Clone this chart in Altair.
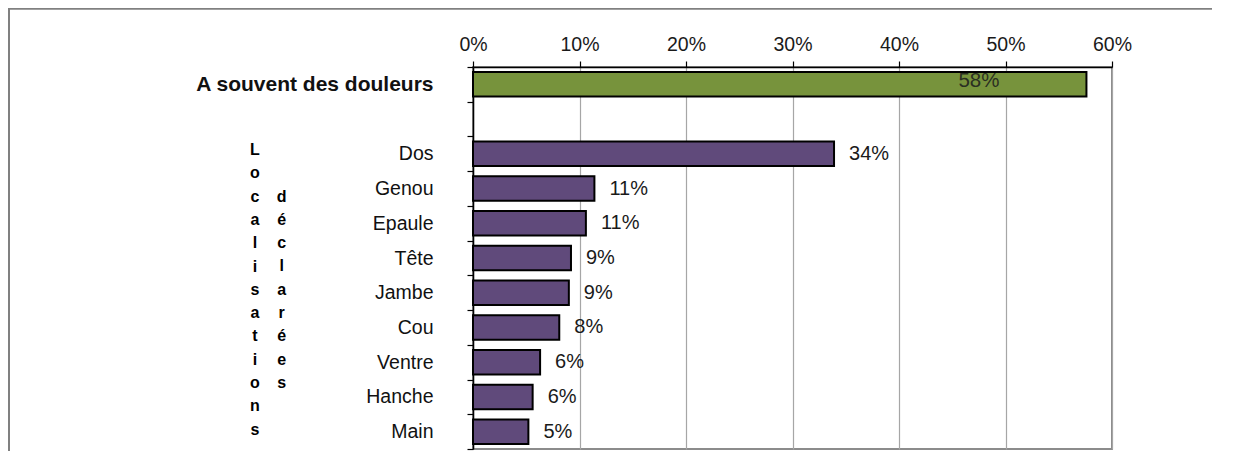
import altair as alt
import pandas as pd

# ---- data ----
categories = ["A souvent des douleurs", "Dos", "Genou", "Epaule", "Tête",
              "Jambe", "Cou", "Ventre", "Hanche", "Main"]
values_pct = [57.6, 33.9, 11.4, 10.6, 9.2, 9.0, 8.1, 6.3, 5.6, 5.2]
groups = ["total", "loc", "loc", "loc", "loc", "loc", "loc", "loc", "loc", "loc"]
row_order = ["A souvent des douleurs", " ", "Dos", "Genou", "Epaule", "Tête",
             "Jambe", "Cou", "Ventre", "Hanche", "Main"]
x_ticks = [0, 0.1, 0.2, 0.3, 0.4, 0.5, 0.6]
title_words = ["Localisations", "déclarées"]

FONT = "Liberation Sans"
GREEN = "#77933c"
PURPLE = "#604a7b"

df = pd.DataFrame({"cat": categories, "pct": values_pct, "grp": groups})
dummy = pd.DataFrame({"k": [0]})

base = alt.Chart(df).transform_calculate(
    frac="datum.pct / 100",
    lab="format(datum.pct / 100, '.0%')",
)

y_enc = alt.Y(
    "cat:N",
    sort=row_order,
    scale=alt.Scale(domain=row_order, paddingInner=0, paddingOuter=0),
    axis=alt.Axis(
        title=None,
        orient="left",
        grid=False,
        tickBand="extent",
        tickSize=6,
        tickColor="black",
        tickWidth=1.2,
        domainColor="black",
        domainWidth=1.5,
        labelPadding=34,
        labelLimit=400,
        labelColor="#111111",
        labelFont=FONT,
        labelFontSize={"condition": {"test": "datum.value == 'A souvent des douleurs'", "value": 21},
                       "value": 19.5},
        labelFontWeight={"condition": {"test": "datum.value == 'A souvent des douleurs'", "value": "bold"},
                         "value": "normal"},
    ),
)

x_enc = alt.X(
    "frac:Q",
    scale=alt.Scale(domain=[0, 0.6], nice=False),
    axis=alt.Axis(
        title=None,
        orient="top",
        format=".0%",
        values=x_ticks,
        grid=True,
        gridColor="#a6a6a6",
        gridWidth=1.2,
        domainColor="black",
        domainWidth=1.5,
        tickColor="black",
        tickSize=6,
        tickWidth=1.2,
        labelFont=FONT,
        labelFontSize=19.5,
        labelColor="#1a1a1a",
        labelPadding=7,
        labelFlush=False,
    ),
)

bars = base.mark_bar(height=24.5, stroke="black", strokeWidth=2).encode(
    x=x_enc,
    y=y_enc,
    color=alt.Color("grp:N", scale=alt.Scale(domain=["total", "loc"], range=[GREEN, PURPLE]),
                    legend=None),
)

labels_loc = base.transform_filter("datum.grp == 'loc'").mark_text(
    align="left", baseline="middle", dx=15, fontSize=20, font=FONT, color="#1a1a1a"
).encode(x="frac:Q", y=alt.Y("cat:N", sort=row_order), text="lab:N")

labels_total = base.transform_filter("datum.grp == 'total'").mark_text(
    align="center", baseline="middle", dx=-107.5, dy=-3, fontSize=20.5, font=FONT, color="#2a2f22"
).encode(x="frac:Q", y=alt.Y("cat:N", sort=row_order), text="lab:N")

# stacked (vertical) title, two columns centred on each other
title1 = alt.Chart(dummy).mark_text(
    text=list(title_words[0]), lineHeight=23.3, fontWeight="bold", fontSize=16, font=FONT,
    align="center", baseline="middle", color="black"
).encode(x=alt.value(-218), y=alt.value(83))

title2 = alt.Chart(dummy).mark_text(
    text=list(title_words[1]), lineHeight=23.3, fontWeight="bold", fontSize=16, font=FONT,
    align="center", baseline="middle", color="black"
).encode(x=alt.value(-191.3), y=alt.value(129.6))

# page frame decorations (left border and top rule of the document frame)
left_line = alt.Chart(dummy).mark_rule(color="#808080", strokeWidth=2).encode(
    x=alt.value(-464), y=alt.value(-59), y2=alt.value(384))
top_band = alt.Chart(dummy).mark_rect(color="#808080").encode(
    x=alt.value(-465), x2=alt.value(739), y=alt.value(-59), y2=alt.value(-57.3))

chart = alt.layer(bars, labels_loc, labels_total, title1, title2, left_line, top_band).properties(
    width=639,
    height=382,
    padding={"left": 465, "top": 59, "right": 100, "bottom": 2},
    autosize=alt.AutoSizeParams(type="none"),
    background="white",
).configure_view(stroke="#8c8c8c", strokeWidth=2)

chart.save("out.html", embed_options={"renderer": "svg", "actions": False})
